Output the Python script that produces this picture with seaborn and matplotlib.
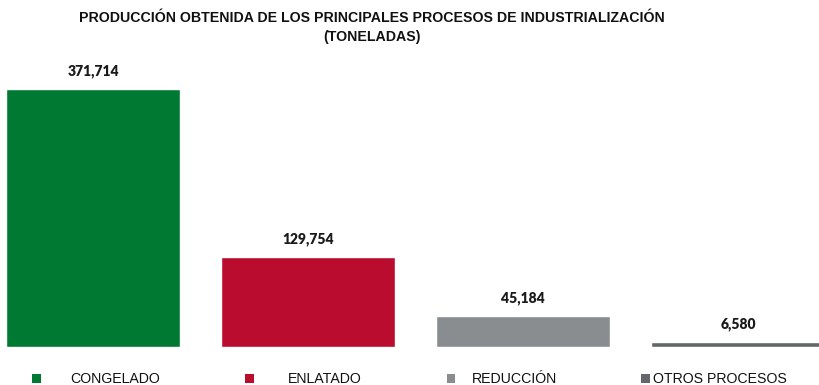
import matplotlib
matplotlib.use("Agg")
import matplotlib.pyplot as plt
from matplotlib.patches import Patch
import seaborn as sns
import pandas as pd

categories = ["CONGELADO", "ENLATADO", "REDUCCIÓN", "OTROS PROCESOS"]
toneladas = [371714, 129754, 45184, 6580]
colores = ["#007A33", "#BA0C2F", "#8A8D8F", "#63666A"]

sns.set_theme(style="white")
plt.rcParams["font.family"] = ["Liberation Sans", "DejaVu Sans"]

df = pd.DataFrame({"proceso": categories, "toneladas": toneladas})

W, H = 819, 385
fig = plt.figure(figsize=(W / 100, H / 100), dpi=100)
# axes spans slightly past the figure edges so the bars sit as wide as in the layout
ax_left, ax_right = -14.5, 845.5
ax_bottom, ax_top = 347, 60
ax = fig.add_axes([ax_left / W, (H - ax_bottom) / H,
                   (ax_right - ax_left) / W, (ax_bottom - ax_top) / H])

sns.barplot(data=df, x="proceso", y="toneladas", hue="proceso",
            palette=colores, width=0.81, legend=False, ax=ax, saturation=1)
ax.set_xlim(-0.5, 3.5)
ax.set_ylim(0, 371714 * (ax_bottom - ax_top) / 258)
ax.axis("off")

for cont in ax.containers:
    ax.bar_label(cont, labels=[f"{v:,.0f}" for v in cont.datavalues],
                 padding=8, fontsize=10, fontweight="heavy",
                 family=["Lato", "DejaVu Sans"], color="#1a1a1a")

title_kw = dict(ha="center", va="center", fontsize=10.2, fontweight="bold",
                family=["Liberation Sans Narrow", "Liberation Sans", "DejaVu Sans"],
                color="#111111")
fig.text(372 / W, 1 - 18 / H,
         "PRODUCCIÓN OBTENIDA DE LOS PRINCIPALES PROCESOS DE INDUSTRIALIZACIÓN",
         **title_kw)
fig.text(372 / W, 1 - 37 / H, "(TONELADAS)", **title_kw)

# legend entries with the same spacing as the columns of the chart
leg_x = [32, 245, 447, 641]
leg_pad = [2.1, 2.4, 1.15, 0.24]
for cat, col, x, pad in zip(categories, colores, leg_x, leg_pad):
    leg = fig.legend(handles=[Patch(facecolor=col, edgecolor="none")], labels=[cat],
                     loc="center left", bbox_to_anchor=(x / W, 1 - 379 / H),
                     frameon=False, handlelength=0.6, handleheight=0.6,
                     handletextpad=pad, borderpad=0, borderaxespad=0,
                     prop={"family": ["Liberation Sans", "DejaVu Sans"], "size": 10.2})
    for t in leg.get_texts():
        t.set_color("#111111")

fig.savefig("out.png", dpi=100)
